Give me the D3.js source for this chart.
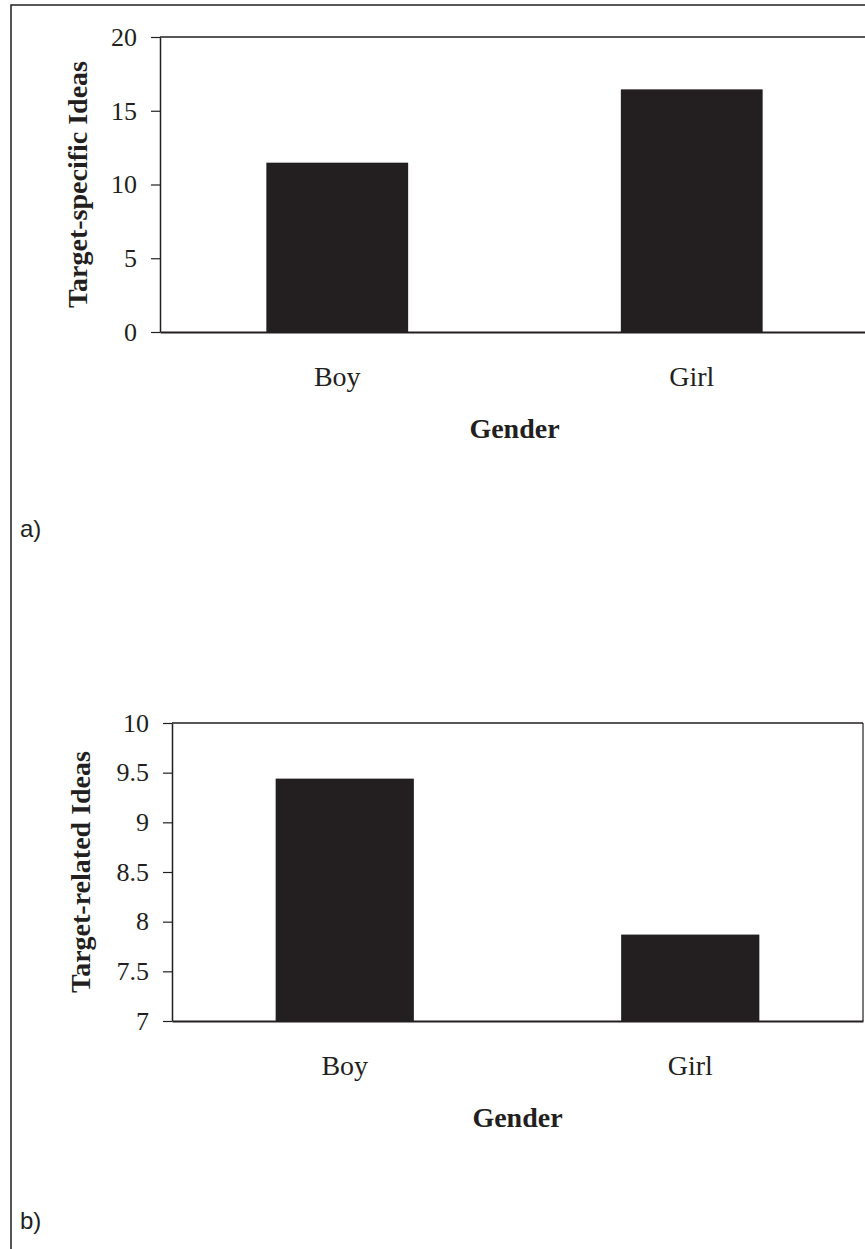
<!DOCTYPE html>
<html>
<head>
<meta charset="utf-8">
<script src="https://cdn.jsdelivr.net/npm/d3@7/dist/d3.min.js"></script>
<style>
  html, body { margin: 0; padding: 0; background: #fff; }
  svg { display: block; }
  .serif { font-family: "Liberation Serif", "Times New Roman", serif; fill: #231f20; }
  .tag { font-family: "Liberation Sans", Arial, sans-serif; fill: #231f20; }
</style>
</head>
<body>
<div id="chart"></div>
<script>
// data
const categories = ["Boy", "Girl"];
const specificValues = [11.48, 16.45];   // panel a
const relatedValues = [9.44, 7.87];      // panel b
const specificTicks = [0, 5, 10, 15, 20];
const relatedTicks = [7, 7.5, 8, 8.5, 9, 9.5, 10];

const width = 865, height = 1249;
const ink = "#231f20";

const svg = d3.select("#chart")
  .append("svg")
  .attr("width", width)
  .attr("height", height);

// outer figure frame (left + top edge visible)
svg.append("path")
  .attr("d", `M11,${height + 2} V5 H${width + 2}`)
  .attr("fill", "none")
  .attr("stroke", ink)
  .attr("stroke-width", 1.5);

function drawPanel(opts) {
  const { left, right, top, bottom, values, ticks, domain, title, titleX, tag, tagY, showRight } = opts;

  const x = d3.scaleBand()
    .domain(categories)
    .range([left, right])
    .paddingInner(0.6)
    .paddingOuter(0.3);

  const y = d3.scaleLinear()
    .domain(domain)
    .range([bottom, top]);

  const g = svg.append("g");

  // plot frame
  g.append("line").attr("x1", left).attr("x2", right).attr("y1", top).attr("y2", top)
    .attr("stroke", ink).attr("stroke-width", 1.5);
  if (showRight) {
    g.append("line").attr("x1", right).attr("x2", right).attr("y1", top).attr("y2", bottom)
      .attr("stroke", ink).attr("stroke-width", 1.2);
  }

  // bars
  g.selectAll("rect.bar")
    .data(values)
    .enter()
    .append("rect")
    .attr("class", "bar")
    .attr("x", (d, i) => x(categories[i]))
    .attr("width", x.bandwidth())
    .attr("y", d => y(d))
    .attr("height", d => y(domain[0]) - y(d))
    .attr("fill", ink);

  // y axis
  const yAxis = g.append("g")
    .attr("transform", `translate(${left},0)`)
    .call(d3.axisLeft(y).tickValues(ticks).tickSize(9).tickSizeOuter(0).tickPadding(14).tickFormat(d3.format("")));
  yAxis.select(".domain").attr("stroke", ink).attr("stroke-width", 1.5);
  yAxis.selectAll(".tick line").attr("stroke", ink).attr("stroke-width", 1.2);
  yAxis.selectAll(".tick text")
    .attr("class", "serif")
    .style("font-size", "26px")
    .attr("fill", ink);

  // x axis
  const xAxis = g.append("g")
    .attr("transform", `translate(0,${bottom})`)
    .call(d3.axisBottom(x).tickSize(0).tickPadding(34));
  xAxis.select(".domain").attr("stroke", ink).attr("stroke-width", 2);
  xAxis.selectAll(".tick text")
    .attr("class", "serif")
    .style("font-size", "28px")
    .attr("fill", ink);

  // x title
  g.append("text")
    .attr("class", "serif")
    .attr("x", (left + right) / 2)
    .attr("y", bottom + 106)
    .attr("text-anchor", "middle")
    .style("font-size", "28px")
    .style("font-weight", "bold")
    .text("Gender");

  // y title
  g.append("text")
    .attr("class", "serif")
    .attr("transform", `translate(${titleX},${(top + bottom) / 2}) rotate(-90)`)
    .attr("text-anchor", "middle")
    .attr("dy", "0.35em")
    .style("font-size", "28px")
    .style("font-weight", "bold")
    .text(title);

  // panel tag
  svg.append("text")
    .attr("class", "tag")
    .attr("x", 20)
    .attr("y", tagY)
    .style("font-size", "24px")
    .text(tag);
}

drawPanel({
  left: 160, right: 869, top: 37, bottom: 332,
  values: specificValues, ticks: specificTicks, domain: [0, 20],
  title: "Target-specific Ideas", titleX: 77, tag: "a)", tagY: 537, showRight: false
});

drawPanel({
  left: 172, right: 863, top: 723, bottom: 1021,
  values: relatedValues, ticks: relatedTicks, domain: [7, 10],
  title: "Target-related Ideas", titleX: 80, tag: "b)", tagY: 1229, showRight: true
});
</script>
</body>
</html>
